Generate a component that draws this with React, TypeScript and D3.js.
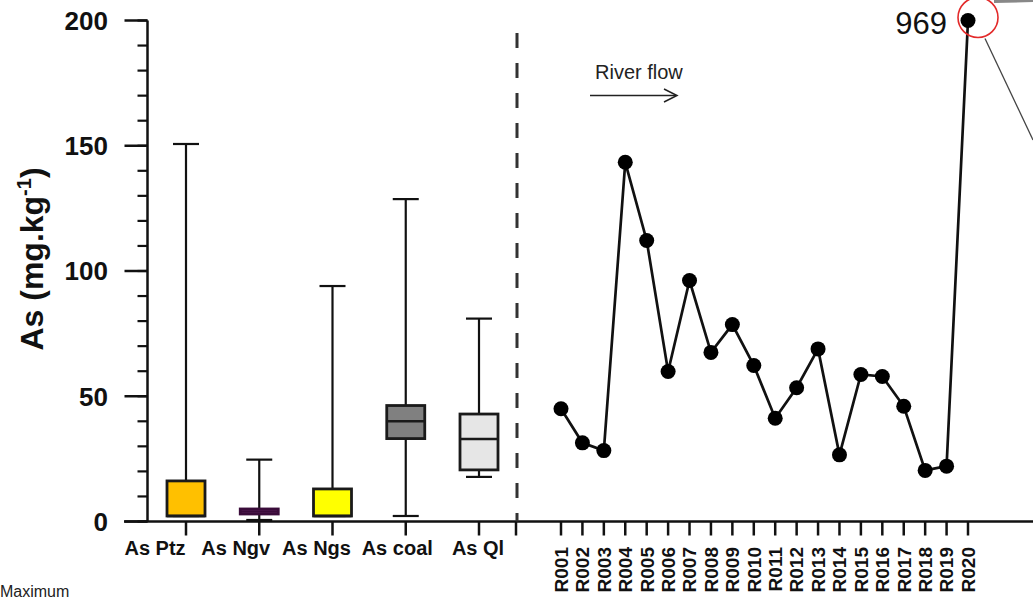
import React from "react";
import * as d3 from "d3";

const categories = ["As Ptz", "As Ngv", "As Ngs", "As coal", "As Ql"];
const boxMin = [2.2, 0.6, 2.2, 2.2, 17.8];
const boxQ1 = [2.2, 3.0, 2.2, 33.1, 20.6];
const boxMedian = [2.2, 4.0, 2.2, 40.0, 32.9];
const boxQ3 = [16.2, 5.0, 13.0, 46.3, 42.9];
const boxMax = [150.7, 24.7, 94.0, 128.7, 81.0];
const boxFill = ["#FFC000", "#8E3F8A", "#FFFF00", "#808080", "#E6E6E6"];
const boxStroke = ["#1a1a1a", "#3a0c3a", "#1a1a1a", "#1a1a1a", "#1a1a1a"];

const sites = [
  "R001", "R002", "R003", "R004", "R005", "R006", "R007", "R008", "R009", "R010",
  "R011", "R012", "R013", "R014", "R015", "R016", "R017", "R018", "R019", "R020",
];
const siteValues = [
  45.0, 31.4, 28.3, 143.4, 112.2, 59.9, 96.2, 67.5, 78.6, 62.3,
  41.2, 53.4, 68.9, 26.6, 58.7, 57.9, 46.0, 20.4, 22.1, 969,
];

const yMajor = [0, 50, 100, 150, 200];
const yMinor = d3.range(0, 201, 10);
const yMax = 200;

const W = 1033;
const H = 599;

export default function App() {
  const y = d3.scaleLinear().domain([0, yMax]).range([521.5, 20.5]);
  const xBox = d3.scalePoint<string>().domain(categories).range([186, 479]);
  const xLabel = d3.scalePoint<string>().domain(categories).range([155, 478]);
  const xSite = d3.scalePoint<string>().domain(sites).range([561, 968]);

  const axisX = 147.5;
  const axisY = y(0);
  const dividerX = 517;
  const boxW = 38;
  const capW = 26;

  const shown = siteValues.map((v) => Math.min(v, yMax));
  const line = d3
    .line<number>()
    .x((_, i) => xSite(sites[i])!)
    .y((v) => y(v));

  const lastX = xSite(sites[sites.length - 1])!;
  const lastY = y(shown[shown.length - 1]);
  const clipped = siteValues[siteValues.length - 1];

  return (
    <svg
      width={W}
      height={H}
      style={{ position: "absolute", left: 0, top: 0, background: "#fff" }}
      fontFamily="'Liberation Sans', Arial, sans-serif"
    >
      {/* Y axis */}
      <line x1={axisX} x2={axisX} y1={y(yMax)} y2={axisY} stroke="#111" strokeWidth={2.5} />
      {yMinor.map((v) => (
        <line key={"mn" + v} x1={axisX - 10} x2={axisX} y1={y(v)} y2={y(v)} stroke="#111" strokeWidth={2.2} />
      ))}
      {yMajor.map((v) => (
        <g key={"mj" + v}>
          <line x1={axisX - 23} x2={axisX} y1={y(v)} y2={y(v)} stroke="#111" strokeWidth={2.5} />
          <text x={108} y={y(v)} dy="0.36em" textAnchor="end" fontSize={26} fontWeight="bold" fill="#111">
            {v}
          </text>
        </g>
      ))}
      <text
        transform={`translate(43,259) rotate(-90)`}
        textAnchor="middle"
        fontSize={32}
        fontWeight="bold"
        fill="#111"
      >
        As (mg.kg
        <tspan fontSize={20} dy={-12}>-1</tspan>
        <tspan dy={12}>)</tspan>
      </text>

      {/* X axis */}
      <line x1={124} x2={W} y1={axisY} y2={axisY} stroke="#111" strokeWidth={2.5} />
      {categories.map((c) => (
        <line key={"ct" + c} x1={xBox(c)} x2={xBox(c)} y1={axisY} y2={axisY + 14} stroke="#111" strokeWidth={2.5} />
      ))}
      <line x1={dividerX - 1} x2={dividerX - 1} y1={axisY} y2={axisY + 14} stroke="#111" strokeWidth={2.5} />
      {categories.map((c) => (
        <text key={"cl" + c} x={xLabel(c)} y={555} textAnchor="middle" fontSize={20} fontWeight="bold" fill="#111">
          {c}
        </text>
      ))}
      {sites.map((s) => (
        <g key={"st" + s}>
          <line x1={xSite(s)} x2={xSite(s)} y1={axisY} y2={axisY + 14} stroke="#111" strokeWidth={2.5} />
          <text
            transform={`translate(${xSite(s)},547) rotate(-90)`}
            textAnchor="end"
            dy="0.36em"
            fontSize={19}
            fontWeight="bold"
            fill="#111"
          >
            {s}
          </text>
        </g>
      ))}

      {/* Box plots */}
      {categories.map((c, i) => {
        const cx = xBox(c)!;
        return (
          <g key={"bx" + c}>
            <line x1={cx} x2={cx} y1={y(boxMax[i])} y2={y(boxQ3[i])} stroke="#111" strokeWidth={2.2} />
            <line x1={cx} x2={cx} y1={y(boxQ1[i])} y2={y(boxMin[i])} stroke="#111" strokeWidth={2.2} />
            <line x1={cx - capW / 2} x2={cx + capW / 2} y1={y(boxMax[i])} y2={y(boxMax[i])} stroke="#111" strokeWidth={2.2} />
            <line x1={cx - capW / 2} x2={cx + capW / 2} y1={y(boxMin[i])} y2={y(boxMin[i])} stroke="#111" strokeWidth={2.2} />
            <rect
              x={cx - boxW / 2}
              y={y(boxQ3[i])}
              width={boxW}
              height={y(boxQ1[i]) - y(boxQ3[i])}
              fill={boxFill[i]}
              stroke={boxStroke[i]}
              strokeWidth={2.8}
            />
            <line
              x1={cx - boxW / 2}
              x2={cx + boxW / 2}
              y1={y(boxMedian[i])}
              y2={y(boxMedian[i])}
              stroke={boxStroke[i]}
              strokeWidth={2.5}
            />
          </g>
        );
      })}

      {/* Divider */}
      <line
        x1={dividerX}
        x2={dividerX}
        y1={33}
        y2={axisY}
        stroke="#333"
        strokeWidth={3}
        strokeDasharray="15,15"
      />

      {/* River flow annotation */}
      <text x={595} y={79} fontSize={20} fill="#222">River flow</text>
      <line x1={590} x2={676} y1={95.5} y2={95.5} stroke="#222" strokeWidth={1.5} />
      <path d="M664,89 L677,95.5 L664,102" fill="none" stroke="#222" strokeWidth={1.5} />

      {/* Site line */}
      <path d={line(shown) || ""} fill="none" stroke="#111" strokeWidth={2.7} />
      {shown.map((v, i) => (
        <circle key={"pt" + i} cx={xSite(sites[i])} cy={y(v)} r={7.5} fill="#000" />
      ))}

      {/* Off-scale annotation */}
      <text x={lastX - 21} y={34} textAnchor="end" fontSize={31} fill="#111">
        {clipped}
      </text>
      <circle cx={lastX + 10} cy={lastY - 3} r={20} fill="none" stroke="#e32a2a" strokeWidth={1.6} />
      <line x1={lastX + 26} x2={W} y1={1.5} y2={0.5} stroke="#888" strokeWidth={3} />
      <line x1={lastX + 17} x2={W} y1={lastY + 18} y2={140} stroke="#444" strokeWidth={1.3} />

      <text x={0} y={597} fontSize={16} fill="#222">Maximum</text>
    </svg>
  );
}
